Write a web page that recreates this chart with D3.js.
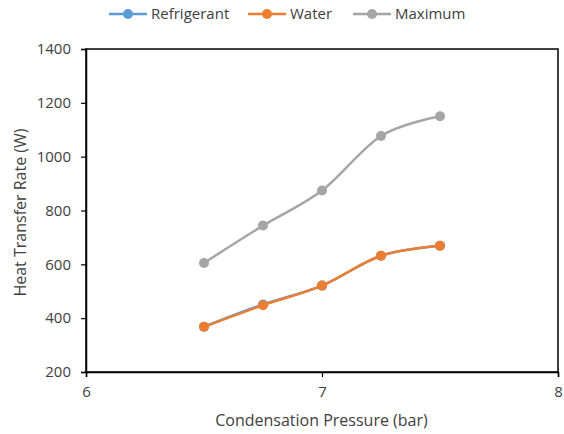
<!DOCTYPE html>
<html>
<head>
<meta charset="utf-8">
<script src="https://cdn.jsdelivr.net/npm/d3@7"></script>
<style>
  html, body { margin: 0; padding: 0; background: #fff; }
  svg { display: block; }
  text { font-family: "Open Sans", "Liberation Sans", sans-serif; fill: #404040; }
</style>
</head>
<body>
<svg id="chart" width="564" height="434"></svg>
<script>
const pressures = [6.5, 6.75, 7, 7.25, 7.5];
const refrigerant = [368, 451, 521, 632, 669];
const water = [368, 448, 521, 632, 669];
const maximum = [605, 744, 874, 1077, 1150];
const seriesNames = ["Refrigerant", "Water", "Maximum"];
const seriesColors = ["#5B9BD5", "#ED7D31", "#A5A5A5"];
const xTicks = [6, 7, 8];
const yTicks = [200, 400, 600, 800, 1000, 1200, 1400];

const seriesValues = [refrigerant, water, maximum];

const svg = d3.select("#chart");
const L = 86, R = 558, T = 49, B = 372;

const x = d3.scaleLinear().domain([6, 8]).range([L, R]);
const y = d3.scaleLinear().domain([200, 1400]).range([B, T]);

// plot frame
svg.append("rect")
  .attr("x", L).attr("y", T).attr("width", R - L).attr("height", B - T)
  .attr("fill", "none").attr("stroke", "#000").attr("stroke-width", 1.5);

// y axis
const yAxis = svg.append("g").attr("transform", `translate(${L},0)`)
  .call(d3.axisLeft(y).tickValues(yTicks).tickSize(5).tickPadding(10).tickFormat(d3.format("d")));
yAxis.select(".domain").attr("stroke", "#000").attr("stroke-width", 1.5);
yAxis.selectAll(".tick line").attr("stroke", "#000").attr("stroke-width", 1.2);
yAxis.selectAll(".tick text").attr("font-size", 15).attr("fill", "#404040")
  .attr("font-family", "'Open Sans', sans-serif");

// x axis
const xAxis = svg.append("g").attr("transform", `translate(0,${B})`)
  .call(d3.axisBottom(x).tickValues(xTicks).tickSize(5).tickPadding(9).tickFormat(d3.format("d")));
xAxis.select(".domain").attr("stroke", "#000").attr("stroke-width", 1.5);
xAxis.selectAll(".tick line").attr("stroke", "#000").attr("stroke-width", 1.2);
xAxis.selectAll(".tick text").attr("font-size", 15).attr("fill", "#404040")
  .attr("font-family", "'Open Sans', sans-serif");

// axis titles
svg.append("text")
  .attr("x", 321.5).attr("y", 426)
  .attr("text-anchor", "middle").attr("font-size", 16)
  .text("Condensation Pressure (bar)");

svg.append("text")
  .attr("transform", `translate(26,${212.5}) rotate(-90)`)
  .attr("text-anchor", "middle").attr("font-size", 16)
  .text("Heat Transfer Rate (W)");

// series
const line = d3.line()
  .x(d => x(d[0])).y(d => y(d[1]))
  .curve(d3.curveCardinal.tension(0));

seriesValues.forEach((vals, i) => {
  const pts = pressures.map((p, j) => [p, vals[j]]);
  const g = svg.append("g");
  g.append("path").datum(pts)
    .attr("d", line)
    .attr("fill", "none")
    .attr("stroke", seriesColors[i])
    .attr("stroke-width", 2.5)
    .attr("stroke-linecap", "round");
  g.selectAll("circle").data(pts).join("circle")
    .attr("cx", d => x(d[0])).attr("cy", d => y(d[1]))
    .attr("r", 5)
    .attr("fill", seriesColors[i]);
});

// legend
const legendX = [109, 248, 353];
const legendY = 14;
seriesNames.forEach((name, i) => {
  const g = svg.append("g").attr("transform", `translate(${legendX[i]},${legendY})`);
  g.append("line").attr("x1", 0).attr("x2", 38).attr("y1", 0).attr("y2", 0)
    .attr("stroke", seriesColors[i]).attr("stroke-width", 2.5);
  g.append("circle").attr("cx", 19).attr("cy", 0).attr("r", 5).attr("fill", seriesColors[i]);
  g.append("text").attr("x", 42).attr("y", 5).attr("font-size", 15).text(name);
});
</script>
</body>
</html>
